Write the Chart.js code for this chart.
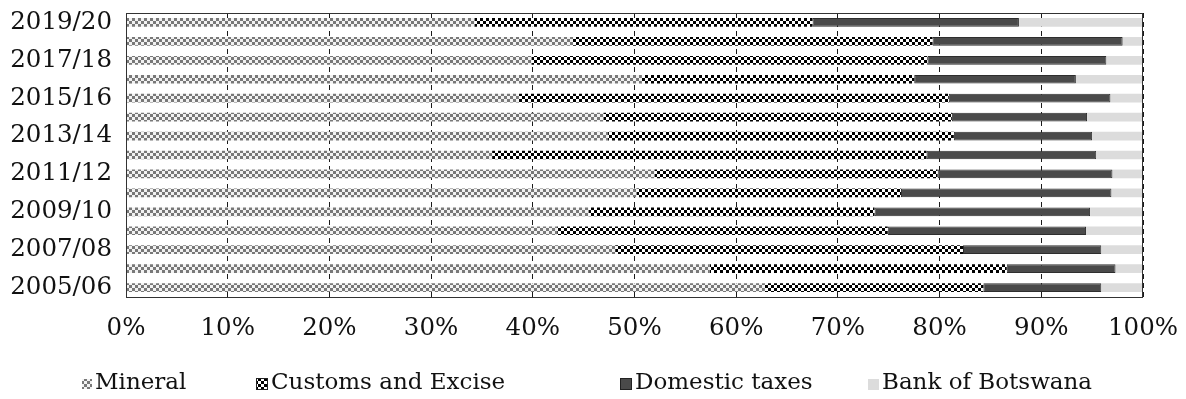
<!DOCTYPE html>
<html>
<head>
<meta charset="utf-8">
<script src="https://cdn.jsdelivr.net/npm/chart.js@4.4.1/dist/chart.umd.min.js"></script>
<style>
  html, body { margin: 0; padding: 0; background: #ffffff; }
  #wrap { width: 1186px; height: 399px; position: relative; }
</style>
</head>
<body>
<div id="wrap"><canvas id="chart" width="1186" height="399"></canvas></div>
<script>
// Fiscal years, oldest first (drawn bottom to top)
const years = ['2005/06', '2006/07', '2007/08', '2008/09', '2009/10', '2010/11', '2011/12',
               '2012/13', '2013/14', '2014/15', '2015/16', '2016/17', '2017/18', '2018/19', '2019/20'];

// Share of total revenue by source, per cent
const mineral  = [62.8, 57.4, 48.1, 42.4, 45.5, 50.2, 52.0, 36.0, 47.4, 47.0, 38.6, 50.7, 39.9, 43.9, 34.3];
const customs  = [21.5, 29.2, 34.2, 32.5, 28.1, 26.0, 27.8, 42.7, 34.0, 34.2, 42.3, 26.8, 38.9, 35.4, 33.2];
const domestic = [11.6, 10.7, 13.6, 19.5, 21.2, 20.7, 17.2, 16.7, 13.6, 13.3, 15.9, 15.9, 17.6, 18.7, 20.3];
const bank     = [ 4.1,  2.7,  4.1,  5.6,  5.2,  3.1,  3.0,  4.6,  5.0,  5.5,  3.2,  6.6,  3.6,  2.0, 12.2];

const seriesNames = ['Mineral', 'Customs and Excise', 'Domestic taxes', 'Bank of Botswana'];
const xTickValues = [0, 10, 20, 30, 40, 50, 60, 70, 80, 90, 100];

const FONT = '"DejaVu Serif", serif';
const canvas = document.getElementById('chart');
const ctx = canvas.getContext('2d');

// Two-tone checkerboard fill
function checker(cell, dark, light) {
  const t = document.createElement('canvas');
  t.width = t.height = cell * 2;
  const g = t.getContext('2d');
  g.fillStyle = light;
  g.fillRect(0, 0, cell * 2, cell * 2);
  g.fillStyle = dark;
  g.fillRect(0, 0, cell, cell);
  g.fillRect(cell, cell, cell, cell);
  return ctx.createPattern(t, 'repeat');
}

const fills = [
  checker(3, '#787878', '#f2f2f2'),
  checker(3, '#000000', '#ffffff'),
  '#4a4a4a',
  '#dcdcdc'
];
const borders = ['rgba(0,0,0,0)', 'rgba(0,0,0,0)', '#2e2e2e', 'rgba(0,0,0,0)'];
const values = [mineral, customs, domestic, bank];

// Solid frame around the plot area
const frame = {
  id: 'frame',
  afterDatasetsDraw(chart) {
    const a = chart.chartArea, c = chart.ctx;
    c.save();
    c.strokeStyle = '#333333';
    c.lineWidth = 1;
    c.strokeRect(Math.round(a.left) + 0.5, Math.round(a.top) + 0.5,
                 Math.round(a.right - a.left) - 1, Math.round(a.bottom - a.top));
    c.restore();
  }
};

// Legend row under the axis
const legendLayout = [
  { x: 82,  box: 10 },
  { x: 256, box: 12 },
  { x: 620, box: 12 },
  { x: 868, box: 11 }
];
const legendRow = {
  id: 'legendRow',
  afterDraw(chart) {
    const c = chart.ctx;
    const y = 383;
    c.save();
    c.font = '23px ' + FONT;
    c.textBaseline = 'middle';
    seriesNames.forEach((name, i) => {
      const L = legendLayout[i];
      const top = Math.round(y - L.box / 2) + 1;
      c.fillStyle = fills[i];
      c.fillRect(L.x, top, L.box, L.box);
      if (i === 1 || i === 2) {
        c.strokeStyle = '#222222';
        c.lineWidth = 1;
        c.strokeRect(L.x + 0.5, top + 0.5, L.box - 1, L.box - 1);
      }
      c.fillStyle = '#111111';
      c.fillText(name, L.x + L.box + 3, y);
    });
    c.restore();
  }
};

new Chart(ctx, {
  type: 'bar',
  data: {
    labels: years,
    datasets: seriesNames.map((name, i) => ({
      label: name,
      data: values[i],
      backgroundColor: fills[i],
      borderColor: borders[i],
      borderWidth: i === 2 ? 1 : 0,
      borderSkipped: false,
      categoryPercentage: 1,
      barPercentage: 0.46
    }))
  },
  options: {
    indexAxis: 'y',
    responsive: false,
    animation: false,
    devicePixelRatio: 1,
    layout: { padding: { top: 13, right: 43, left: 0, bottom: 0 } },
    plugins: {
      legend: { display: false },
      tooltip: { enabled: false }
    },
    scales: {
      x: {
        stacked: true,
        min: 0,
        max: 100,
        afterBuildTicks(scale) { scale.ticks = xTickValues.map(v => ({ value: v })); },
        afterFit(scale) {
          scale.height = 102;
          scale.paddingLeft = 0;
          scale.paddingRight = 0;
        },
        ticks: {
          padding: 17,
          color: '#111111',
          font: { family: FONT, size: 24.5 },
          maxRotation: 0,
          callback: v => v + '%'
        },
        grid: { color: '#1a1a1a', lineWidth: 1, drawTicks: false },
        border: { display: false, dash: [5, 4] }
      },
      y: {
        stacked: true,
        reverse: true,
        afterFit(scale) {
          scale.width = 126;
          scale.paddingTop = 0;
          scale.paddingBottom = 0;
        },
        ticks: {
          autoSkip: false,
          padding: 14,
          color: '#111111',
          font: { family: FONT, size: 24.5 },
          callback: (v, i) => (i % 2 === 0 ? years[i] : '')
        },
        grid: { display: false, drawTicks: false },
        border: { display: false }
      }
    }
  },
  plugins: [frame, legendRow]
});
</script>
</body>
</html>
